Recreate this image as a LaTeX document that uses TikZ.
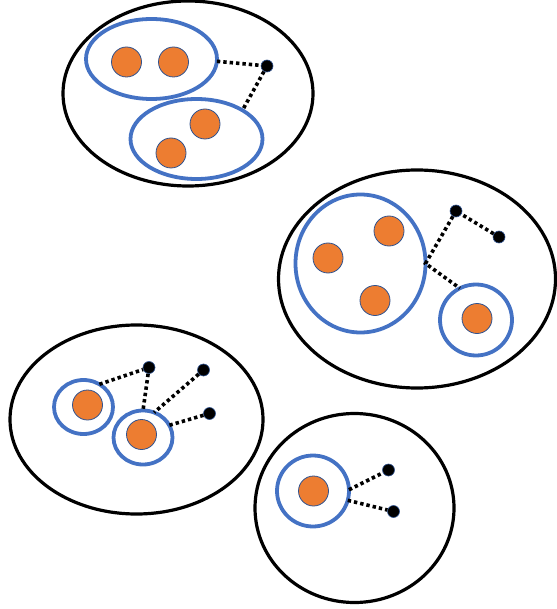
\documentclass[tikz,border=0pt]{standalone}
\usepackage{tikz}
\usetikzlibrary{shapes.geometric}
\definecolor{ringblue}{HTML}{4472C4}
\definecolor{ballorange}{HTML}{ED7D31}
\definecolor{rimblue}{HTML}{2F528F}

\begin{document}
\begin{tikzpicture}[x=1pt, y=-1pt,
    cell/.style={ellipse, draw, line width=3.2pt, inner sep=0pt, outer sep=0pt},
    ring/.style={ellipse, draw=ringblue, line width=3.8pt, inner sep=0pt, outer sep=0pt},
    ball/.style={circle, fill=ballorange, draw=rimblue, line width=0.8pt, minimum size=30pt, inner sep=0pt},
    knob/.style={circle, fill=black, draw=rimblue, line width=0.6pt, minimum size=12pt, inner sep=0pt},
    link/.style={line width=3.6pt, dash pattern=on 3.4pt off 3pt}]
      \useasboundingbox (0,0) rectangle (556,609);

      % top group
      \node[cell, minimum width=250pt, minimum height=185pt] (top) at (188,93.5) {};
      \node[ring, minimum width=131pt, minimum height=80pt] (tl) at (151.5,59) {};
      \node[ring, minimum width=132pt, minimum height=80pt] (tr) at (196.5,139) {};
      \node[ball] (a1) at (126.5,62) {};
      \node[ball] (a2) at (173.5,62) {};
      \node[ball] (a3) at (205,124) {};
      \node[ball] (a4) at (171,153) {};
      \node[knob] (k1) at (267,66) {};

      \draw[link] (tl.-2) -- (k1) -- (tr.32);

      % right group
      \node[cell, minimum width=277pt, minimum height=218pt] (right) at (417,279) {};
      \node[ring, minimum width=130pt, minimum height=138pt] (big) at (360.5,263.5) {};
      \node[ring, minimum width=72pt, minimum height=71pt] (lone) at (476,320) {};
      \node[ball] (b1) at (389,231) {};
      \node[ball] (b2) at (328,258) {};
      \node[ball] (b3) at (375,300.5) {};
      \node[ball] (b4) at (477,318.5) {};
      \node[knob] (k2) at (456,211) {};
      \node[knob] (k3) at (499,237) {};

      \draw[link] (k3) -- (k2) -- (big.east) -- (lone.117);

      % lower left group
      \node[cell, minimum width=253pt, minimum height=189pt] (left) at (136.5,419.5) {};
      \node[ring, minimum width=59pt, minimum height=54pt] (s1) at (83.5,407) {};
      \node[ring, minimum width=59pt, minimum height=54pt] (s2) at (143,437.5) {};
      \node[ball] (c1) at (87.5,405) {};
      \node[ball] (c2) at (141.5,434.5) {};
      \node[knob] (k4) at (149,367.5) {};
      \node[knob] (k5) at (203.5,370) {};
      \node[knob] (k6) at (209.5,413.5) {};

      \draw[link] (s1.55) -- (k4) -- (s2.north);
      \draw[link] (k5) -- (s2.66);
      \draw[link] (k6) -- (s2.25);

      % lower right group
      \node[cell, minimum width=199pt, minimum height=189pt] (low) at (354.5,508) {};
      \node[ring, minimum width=72pt, minimum height=71pt] (pad) at (313,491) {};
      \node[ball] (d1) at (313.5,491) {};
      \node[knob] (k7) at (388.5,470) {};
      \node[knob] (k8) at (393.5,511.5) {};

      \draw[link] (pad.2) -- (k7);
      \draw[link] (pad.-15) -- (k8);
    \end{tikzpicture}
\end{document}
